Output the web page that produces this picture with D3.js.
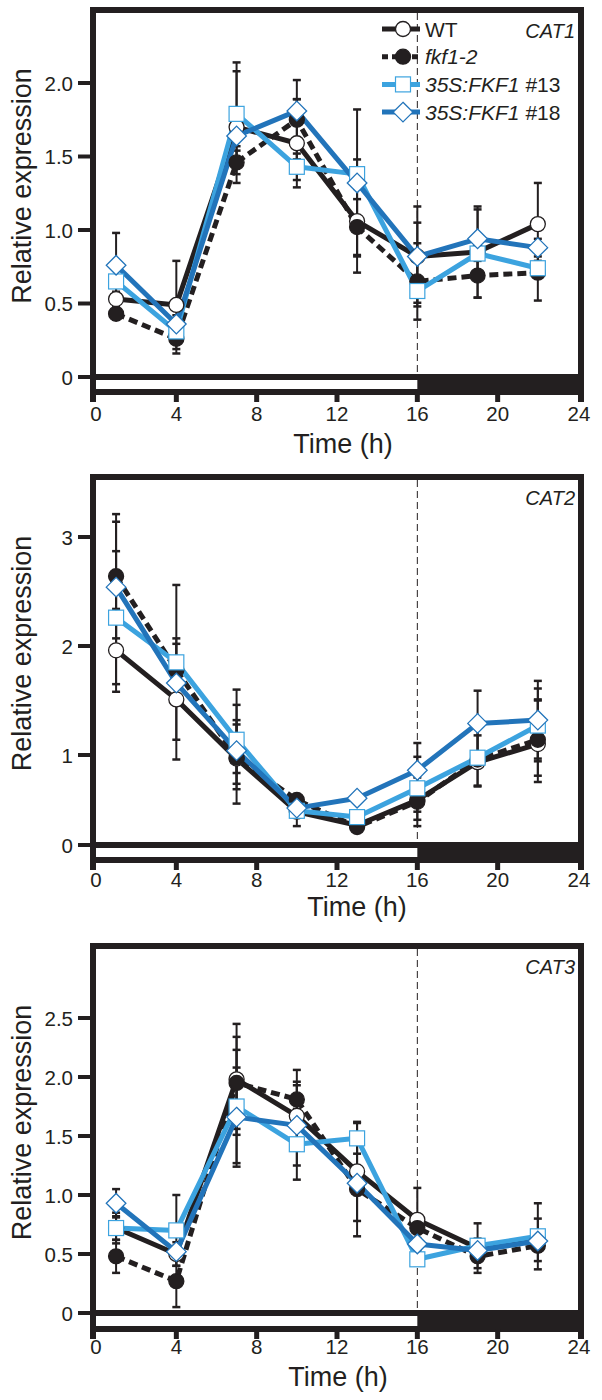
<!DOCTYPE html>
<html><head><meta charset="utf-8">
<script src="https://cdn.jsdelivr.net/npm/d3@7"></script>
<style>body{margin:0;background:#fff} text{font-family:"Liberation Sans",Arial,Helvetica,sans-serif;fill:#231f20}</style>
</head><body><svg id="c" width="602" height="1400"></svg>
<script>
// ---------------- data ----------------
const times = [1, 4, 7, 10, 13, 16, 19, 22];
const xTicks = [0, 4, 8, 12, 16, 20, 24];
const lightPeriod = [0, 16];
const darkPeriod = [16, 24];
const genes = ["CAT1", "CAT2", "CAT3"];
const seriesNames = ["WT", "fkf1-2", "35S:FKF1 #13", "35S:FKF1 #18"];

// CAT1
const cat1WT    = [0.53, 0.49, 1.70, 1.59, 1.06, 0.82, 0.85, 1.04];
const cat1Fkf1  = [0.43, 0.26, 1.46, 1.75, 1.02, 0.65, 0.69, 0.71];
const cat1S13   = [0.65, 0.31, 1.79, 1.43, 1.38, 0.585, 0.84, 0.74];
const cat1S18   = [0.76, 0.36, 1.64, 1.81, 1.32, 0.82, 0.94, 0.88];
const cat1WTErr   = [0.05, 0.30, 0.38, 0.30, 0.35, 0.34, 0.06, 0.28];
const cat1Fkf1Err = [0.04, 0.10, 0.08, 0.27, 0.19, 0.26, 0.15, 0.19];
const cat1S13Err  = [0.08, 0.05, 0.35, 0.09, 0.10, 0.08, 0.30, 0.05];
const cat1S18Err  = [0.22, 0.06, 0.07, 0.08, 0.50, 0.23, 0.22, 0.06];
const cat1Ticks = [0, 0.5, 1.0, 1.5, 2.0];
const cat1TickLabels = ["0", "0.5", "1.0", "1.5", "2.0"];

// CAT2
const cat2WT    = [1.96, 1.51, 0.96, 0.37, 0.22, 0.50, 0.92, 1.10];
const cat2Fkf1  = [2.64, 1.78, 0.97, 0.50, 0.20, 0.48, 0.95, 1.14];
const cat2S13   = [2.26, 1.85, 1.14, 0.38, 0.31, 0.63, 0.97, 1.27];
const cat2S18   = [2.54, 1.66, 1.04, 0.41, 0.52, 0.83, 1.29, 1.32];
const cat2WTErr   = [0.38, 0.56, 0.50, 0.16, 0.05, 0.13, 0.26, 0.40];
const cat2Fkf1Err = [0.57, 0.24, 0.35, 0.06, 0.05, 0.27, 0.30, 0.37];
const cat2S13Err  = [0.61, 0.71, 0.46, 0.05, 0.05, 0.35, 0.05, 0.34];
const cat2S18Err  = [0.60, 0.20, 0.24, 0.05, 0.05, 0.28, 0.30, 0.36];
const cat2Ticks = [0, 1, 2, 3];
const cat2TickLabels = ["0", "1", "2", "3"];

// CAT3
const cat3WT    = [0.72, 0.50, 1.98, 1.67, 1.20, 0.79, 0.55, 0.62];
const cat3Fkf1  = [0.48, 0.27, 1.95, 1.81, 1.05, 0.72, 0.48, 0.57];
const cat3S13   = [0.72, 0.70, 1.75, 1.43, 1.48, 0.455, 0.57, 0.65];
const cat3S18   = [0.93, 0.52, 1.66, 1.59, 1.10, 0.585, 0.53, 0.61];
const cat3WTErr   = [0.10, 0.10, 0.47, 0.29, 0.42, 0.27, 0.08, 0.18];
const cat3Fkf1Err = [0.14, 0.22, 0.39, 0.25, 0.40, 0.05, 0.14, 0.05];
const cat3S13Err  = [0.13, 0.30, 0.48, 0.30, 0.13, 0.05, 0.19, 0.28];
const cat3S18Err  = [0.12, 0.05, 0.42, 0.34, 0.10, 0.05, 0.05, 0.05];
const cat3Ticks = [0, 0.5, 1.0, 1.5, 2.0, 2.5];
const cat3TickLabels = ["0", "0.5", "1.0", "1.5", "2.0", "2.5"];

// ---------------- layout / style ----------------
const INK = "#231f20";
const styles = [
  {color: INK, dash: null, marker: "circle", fill: "#fff", mstroke: INK},
  {color: INK, dash: "9,5", marker: "circle", fill: INK, mstroke: INK},
  {color: "#3ca3df", dash: null, marker: "square", fill: "#fff", mstroke: "#3ca3df"},
  {color: "#2274ba", dash: null, marker: "diamond", fill: "#fff", mstroke: "#2274ba"}
];
const panels = [
  {gene: genes[0], series: [cat1WT, cat1Fkf1, cat1S13, cat1S18], errs: [cat1WTErr, cat1Fkf1Err, cat1S13Err, cat1S18Err],
   ticks: cat1Ticks, labels: cat1TickLabels, yDom: [0, 2], yRange: [377, 83], top: 10, bottom: 392,
   tickY: 421, titleDx: 6, titleY: 453, legend: true},
  {gene: genes[1], series: [cat2WT, cat2Fkf1, cat2S13, cat2S18], errs: [cat2WTErr, cat2Fkf1Err, cat2S13Err, cat2S18Err],
   ticks: cat2Ticks, labels: cat2TickLabels, yDom: [0, 1, 3], yRange: [845, 755, 537], top: 477, bottom: 860,
   tickY: 887, titleDx: 20, titleY: 916, legend: false},
  {gene: genes[2], series: [cat3WT, cat3Fkf1, cat3S13, cat3S18], errs: [cat3WTErr, cat3Fkf1Err, cat3S13Err, cat3S18Err],
   ticks: cat3Ticks, labels: cat3TickLabels, yDom: [0, 2.5], yRange: [1313, 1018], top: 946, bottom: 1329,
   tickY: 1354, titleDx: 1, titleY: 1386, legend: false}
];

const svg = d3.select("#c");
const x = d3.scaleLinear().domain([0, 24]).range([96, 578]);

function drawMarker(g, type, cx, cy, st) {
  if (type === "circle") {
    g.append("circle").attr("cx", cx).attr("cy", cy).attr("r", 7.5)
      .attr("fill", st.fill).attr("stroke", st.mstroke).attr("stroke-width", 1.3);
  } else if (type === "square") {
    g.append("rect").attr("x", cx - 7.5).attr("y", cy - 7.5).attr("width", 15).attr("height", 15)
      .attr("fill", st.fill).attr("stroke", st.mstroke).attr("stroke-width", 1.2);
  } else {
    const h = 9.8;
    g.append("path").attr("d", `M${cx},${cy - h}L${cx + h},${cy}L${cx},${cy + h}L${cx - h},${cy}Z`)
      .attr("fill", st.fill).attr("stroke", st.mstroke).attr("stroke-width", 1.3);
  }
}

panels.forEach(p => {
  const y = d3.scaleLinear().domain(p.yDom).range(p.yRange);
  const g = svg.append("g");
  const y0 = y(0);

  // light / dark bar below zero line
  g.append("rect").attr("x", x(darkPeriod[0])).attr("y", y0).attr("width", x(darkPeriod[1]) - x(darkPeriod[0]))
    .attr("height", p.bottom - y0).attr("fill", INK);
  g.append("line").attr("x1", x(lightPeriod[0]) - 3).attr("x2", x(24) + 3).attr("y1", y0).attr("y2", y0)
    .attr("stroke", INK).attr("stroke-width", 6);

  // frame
  g.append("rect").attr("x", x(0) - 3).attr("y", p.top).attr("width", x(24) - x(0) + 6).attr("height", p.bottom - p.top)
    .attr("fill", "none").attr("stroke", INK).attr("stroke-width", 6);

  // x ticks
  const last = xTicks.length - 1;
  g.selectAll(".xt").data(xTicks).join("line")
    .attr("x1", (d, i) => i === 0 ? x(d) - 3 : (i === last ? x(d) + 3 : x(d)))
    .attr("x2", (d, i) => i === 0 ? x(d) - 3 : (i === last ? x(d) + 3 : x(d)))
    .attr("y1", p.bottom).attr("y2", p.bottom + 10).attr("stroke", INK)
    .attr("stroke-width", (d, i) => (i === 0 || i === last) ? 6 : 5);
  g.selectAll(".xl").data(xTicks).join("text")
    .attr("x", (d, i) => x(d) + (i === last ? 1 : 0)).attr("y", p.tickY)
    .attr("text-anchor", "middle").attr("font-size", 20.5).text(d => d);
  g.append("text").attr("x", x(12) + p.titleDx).attr("y", p.titleY).attr("text-anchor", "middle")
    .attr("font-size", 27).text("Time (h)");

  // y ticks
  g.selectAll(".yt").data(p.ticks).join("line")
    .attr("x1", 78).attr("x2", x(0) - 3).attr("y1", d => y(d)).attr("y2", d => y(d))
    .attr("stroke", INK).attr("stroke-width", 4);
  g.selectAll(".yl").data(p.ticks).join("text")
    .attr("x", 73).attr("y", d => y(d) + 7.5).attr("text-anchor", "end").attr("font-size", 20.5)
    .text((d, i) => p.labels[i]);
  g.append("text").attr("transform", `translate(31,${(p.top + p.bottom) / 2 - 15}) rotate(-90)`)
    .attr("text-anchor", "middle").attr("font-size", 27).text("Relative expression");

  // dashed transition line
  g.append("line").attr("x1", x(16)).attr("x2", x(16)).attr("y1", p.top + 3).attr("y2", y0 - 3)
    .attr("stroke", INK).attr("stroke-width", 1).attr("stroke-dasharray", "7,4");

  // gene label
  g.append("text").attr("x", 575).attr("y", p.top + 28).attr("text-anchor", "end")
    .attr("font-size", 20).attr("font-style", "italic").text(p.gene);

  // error bars
  p.series.forEach((vals, si) => {
    const errs = p.errs[si];
    times.forEach((t, i) => {
      const hi = y(vals[i] + errs[i]), lo = y(vals[i] - errs[i]);
      g.append("line").attr("x1", x(t)).attr("x2", x(t)).attr("y1", hi).attr("y2", lo)
        .attr("stroke", INK).attr("stroke-width", 2);
      [hi, lo].forEach(yy => g.append("line").attr("x1", x(t) - 4).attr("x2", x(t) + 4)
        .attr("y1", yy).attr("y2", yy).attr("stroke", INK).attr("stroke-width", 2.5));
    });
  });

  // lines
  const line = d3.line().x(d => x(d[0])).y(d => y(d[1]));
  p.series.forEach((vals, si) => {
    const st = styles[si];
    g.append("path").attr("d", line(times.map((t, i) => [t, vals[i]])))
      .attr("fill", "none").attr("stroke", st.color).attr("stroke-width", 5)
      .attr("stroke-linejoin", "round")
      .attr("stroke-dasharray", st.dash);
  });
  // markers
  p.series.forEach((vals, si) => {
    times.forEach((t, i) => drawMarker(g, styles[si].marker, x(t), y(vals[i]), styles[si]));
  });

  // legend
  if (p.legend) {
    seriesNames.forEach((name, si) => {
      const st = styles[si];
      const cy = p.top + 19 + si * 27.7;
      g.append("line").attr("x1", 382).attr("x2", 420).attr("y1", cy).attr("y2", cy)
        .attr("stroke", st.color).attr("stroke-width", 5).attr("stroke-dasharray", st.dash ? "6,4" : null);
      drawMarker(g, st.marker, 403, cy, st);
      const tx = g.append("text").attr("x", 425).attr("y", cy + 7.5).attr("font-size", 21);
      if (si === 0) tx.text(name);
      else if (si === 1) tx.attr("font-style", "italic").text(name);
      else {
        const parts = name.split(" ");
        tx.append("tspan").attr("font-style", "italic").text(parts[0]);
        tx.append("tspan").text(" " + parts[1]);
      }
    });
  }
});
</script></body></html>
